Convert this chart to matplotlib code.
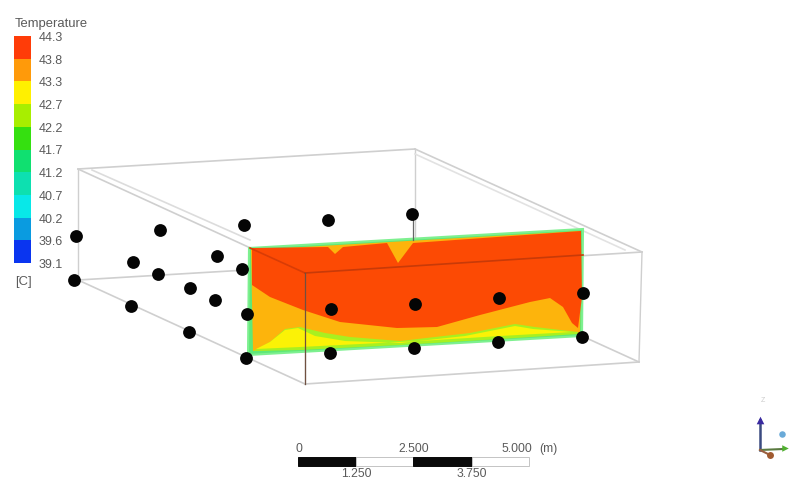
import matplotlib
matplotlib.use("Agg")
import matplotlib.pyplot as plt
from matplotlib.patches import Rectangle

plt.rcParams['font.family'] = ['Liberation Sans', 'DejaVu Sans']

# legend
level_labels = ["44.3", "43.8", "43.3", "42.7", "42.2", "41.7", "41.2", "40.7", "40.2", "39.6", "39.1"]
band_colors = ["#ff3c08", "#ff9a0a", "#fff000", "#a8ee00", "#35e010", "#10e070",
               "#0de0b0", "#08e8e8", "#0a9be0", "#0a35f0"]

# sensor points, picture pixels
sensor_x = [76, 160, 244, 328, 412, 133, 217, 74, 158, 242, 190, 215, 131, 189, 247,
            331, 415, 499, 583, 246, 330, 414, 498, 582]
sensor_y = [236, 230, 225, 220, 214, 262, 256, 280, 274, 269, 288, 300, 306, 332, 314,
            309, 304, 298, 293, 358, 353, 348, 342, 337]

# box corners
box_top = [(78, 169), (415, 149), (642, 252), (305, 273)]
box_bottom = [(78, 280), (415, 260), (639, 362), (305, 384)]

# contour plane
plane_edge = [(249, 248), (583, 229), (582, 336), (248, 355)]
orange_zone = [(251, 250), (581, 231), (580, 333), (400, 343), (253, 351)]
lime_zone = [(253, 351), (270, 342), (285, 329), (300, 327), (325, 333), (350, 337), (400, 341),
             (470, 333), (515, 324), (535, 327), (578, 332), (578, 334), (500, 339), (400, 345),
             (300, 350)]
yellow_zone = [(256, 349), (270, 342), (285, 330), (298, 328), (315, 336), (345, 341), (400, 343),
               (465, 336), (515, 326), (533, 329), (572, 332), (500, 336), (420, 341), (340, 345),
               (300, 347)]
red_zone = [(252, 248), (328, 247), (335, 254), (343, 247), (387, 243), (398, 263), (413, 243), (581, 231),
            (582, 297), (578, 328), (572, 323), (563, 307), (550, 298), (530, 302), (480, 315), (437, 327),
            (397, 328), (340, 322), (303, 310), (270, 297), (252, 285)]

# scale bar
scale_edges = [298, 356, 413, 472, 529]
scale_top = ["0", "2.500", "5.000"]
scale_bottom = ["1.250", "3.750"]

fig = plt.figure(figsize=(8, 4.8), dpi=100)
ax = fig.add_axes([0, 0, 1, 1])
ax.set_xlim(0, 800)
ax.set_ylim(480, 0)
ax.axis("off")

text_color = "#5a5a5a"


def line(a, b, color="#cfcfcf", lw=1.2, z=1):
    ax.plot([a[0], b[0]], [a[1], b[1]], color=color, lw=lw, zorder=z)


# back part of the box
for i in range(4):
    line(box_top[i], box_top[(i + 1) % 4])
    line(box_bottom[i], box_bottom[(i + 1) % 4])
    line(box_top[i], box_bottom[i], lw=1.0)
line((92, 170), (250, 240), color="#dcdcdc")
line((415, 154), (625, 250), color="#e2e2e2")

# contour plane
ax.fill(*zip(*plane_edge), facecolor="#5fe878", edgecolor="#7ef090", lw=1.5, zorder=2)
ax.fill(*zip(*orange_zone), color="#fdb40c", lw=0, zorder=3)
ax.fill(*zip(*lime_zone), color="#a8f020", lw=0, zorder=4)
ax.fill(*zip(*yellow_zone), color="#fbf206", lw=0, zorder=4)
ax.fill(*zip(*red_zone), color="#fc4a04", lw=0, zorder=5)

# box edges in front of the plane
line((250, 248), (305, 273), color="#d83c06", lw=1.2, z=6)
line((305, 273), (583, 255), color="#c83a08", lw=1.2, z=6)
line((305, 273), (305, 384), color="#705040", lw=0.9, z=6)
line((413, 214), (413, 240), color="#666666", lw=0.9, z=6)

ax.scatter(sensor_x, sensor_y, s=85, color="#050505", zorder=7, linewidths=0)

# colour legend
legend_top = 36
legend_bottom = 263
band = (legend_bottom - legend_top) / len(band_colors)
for i, c in enumerate(band_colors):
    ax.add_patch(Rectangle((14, legend_top + i * band), 17, band, color=c, lw=0, zorder=3))
for i, lab in enumerate(level_labels):
    ax.text(39, legend_top + i * band + 2, lab, fontsize=9, color=text_color, va="center", zorder=8)
ax.text(15, 24, "Temperature", fontsize=9.4, color=text_color, va="center")
ax.text(15, 282, "[C]", fontsize=9.4, color=text_color, va="center")

# scale bar
for i in range(4):
    fill = "#0a0a0a" if i % 2 == 0 else "white"
    ax.add_patch(Rectangle((scale_edges[i], 457), scale_edges[i + 1] - scale_edges[i], 9,
                           facecolor=fill, edgecolor="#c4c4c4" if i % 2 else "#0a0a0a", lw=0.7))
for x, lab in zip(scale_edges[0::2], scale_top):
    ax.text(x + (-12 if lab == "5.000" else 1), 449, lab, fontsize=8.7, color=text_color, ha="center", va="center")
for x, lab in zip(scale_edges[1::2], scale_bottom):
    ax.text(x, 474, lab, fontsize=8.7, color=text_color, ha="center", va="center")
ax.text(548, 449, "(m)", fontsize=8.7, color=text_color, ha="center", va="center")

# axis triad
line((760, 450), (760, 420), color="#3a4a80", lw=1.8, z=3)
line((760, 450), (783, 449), color="#5a7a40", lw=1.5, z=3)
line((760, 450), (770, 455), color="#9a6040", lw=1.5, z=3)
ax.scatter([760], [420], marker="^", s=30, color="#3a2aa0", zorder=4, linewidths=0)
ax.scatter([785], [448], marker=">", s=22, color="#50b030", zorder=4, linewidths=0)
ax.scatter([770], [455], s=25, color="#a05a30", zorder=4, linewidths=0)
ax.scatter([782], [434], s=22, color="#6aaad8", zorder=4, linewidths=0)
ax.text(763, 401, "Z", fontsize=5, color="#cccccc", ha="center", va="center")

fig.savefig("out.png", dpi=100)
